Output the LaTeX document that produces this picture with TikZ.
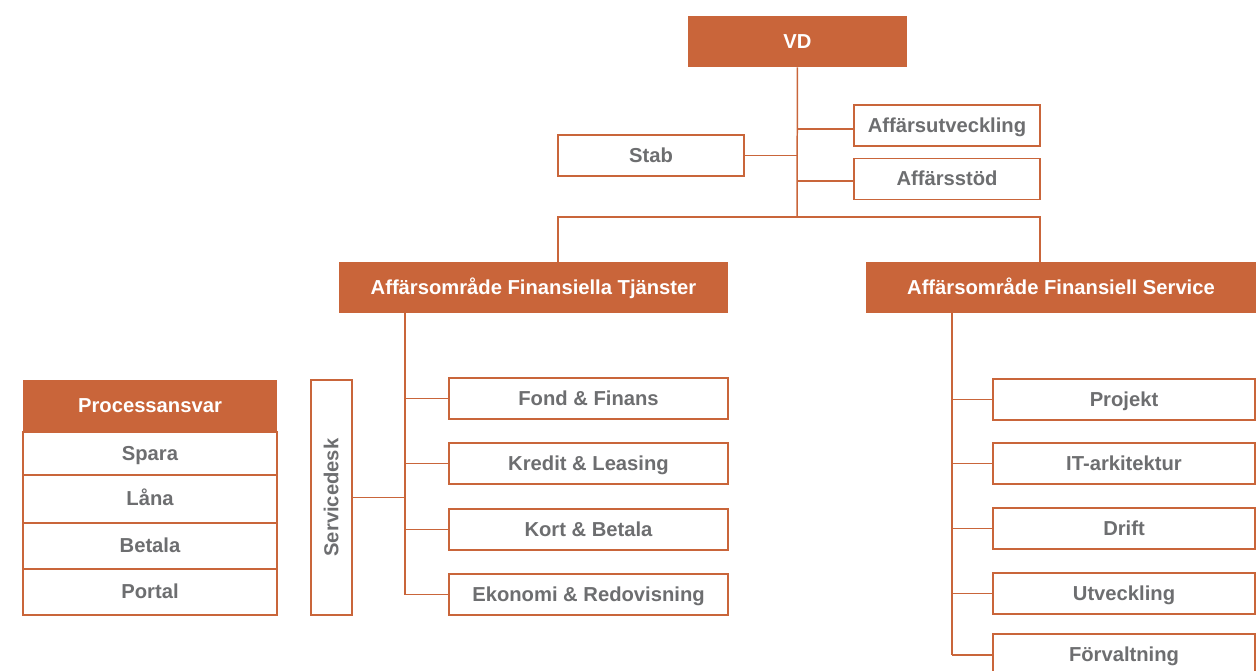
\documentclass[tikz,border=0pt]{standalone}
\usepackage{fontspec}
\setmainfont{Liberation Sans}
\usetikzlibrary{positioning}
\definecolor{orgorange}{HTML}{C9653A}
\definecolor{orggray}{HTML}{6D6E70}
\begin{document}
\begin{tikzpicture}[x=0.02cm,y=-0.02cm,
    head/.style={fill=orgorange,text=white,font=\bfseries\fontsize{11.5}{13}\selectfont,text height=10pt,text depth=2.2pt,minimum height=1.02cm,inner sep=0pt},
    unit/.style={draw=orgorange,line width=0.85pt,fill=white,text=orggray,font=\bfseries\fontsize{11.5}{13}\selectfont,text height=10pt,text depth=2.2pt,minimum height=0.82cm,inner sep=0pt},
    link/.style={draw=orgorange,line width=0.85pt}]
    \useasboundingbox (0,0) rectangle (1256,670);
    \clip (0,0) rectangle (1256,670);
    % top level
    \node[head,minimum width=4.38cm] (vd) at (797.5,41.5) {VD};
    \node[unit,minimum width=3.72cm] (utv) at (947,125.5) {Affärsutveckling};
    \node[unit,minimum width=3.72cm] (stod) at (947,179) {Affärsstöd};
    \node[unit,minimum width=3.72cm] (stab) at (651,155.5) {Stab};
    \node[head,minimum width=7.78cm] (aft) at (533.5,287.5) {Affärsområde Finansiella Tjänster};
    \node[head,minimum width=7.8cm] (afs) at (1061,287.5) {Affärsområde Finansiell Service};
    % Finansiella Tjänster
    \node[unit,minimum width=5.58cm] (fond) at (588.5,398.5) {Fond \& Finans};
    \node[unit,minimum width=5.58cm] (kredit) at (588.5,463.5) {Kredit \& Leasing};
    \node[unit,minimum width=5.58cm] (kort) at (588.5,529.5) {Kort \& Betala};
    \node[unit,minimum width=5.58cm] (ekon) at (588.5,594.5) {Ekonomi \& Redovisning};
    \node[unit,rotate=90,minimum width=4.7cm] (sd) at (331.5,497.5) {Servicedesk};
    % Processansvar
    \node[head,minimum width=5.08cm,minimum height=1.04cm] (proc) at (150,406) {Processansvar};
    \node[unit,minimum width=5.08cm,minimum height=0.86cm] (spara) at (150,453.5) {Spara};
    \node[unit,minimum width=5.08cm,minimum height=0.96cm] (lana) at (150,499) {Låna};
    \node[unit,minimum width=5.08cm,minimum height=0.92cm] (betala) at (150,546) {Betala};
    \node[unit,minimum width=5.08cm,minimum height=0.92cm] (portal) at (150,592) {Portal};
    % Finansiell Service
    \node[unit,minimum width=5.24cm] (proj) at (1124,399.5) {Projekt};
    \node[unit,minimum width=5.24cm] (itark) at (1124,463.5) {IT-arkitektur};
    \node[unit,minimum width=5.24cm] (drift) at (1124,528.5) {Drift};
    \node[unit,minimum width=5.24cm] (utveck) at (1124,593.5) {Utveckling};
    \node[unit,minimum width=5.24cm,minimum height=0.84cm] (forv) at (1124,655) {Förvaltning};
    % connectors
    \coordinate (split) at (797,217);
    \coordinate (lt) at (558,217);
    \coordinate (rt) at (1040,217);
    \coordinate (lbus) at (405,0);
    \coordinate (rbus) at (952,0);
    \draw[link] (vd) -- (split);
    \draw[link] ([yshift=-0.07cm]utv.west) -- ([yshift=-0.07cm]utv.west -| split);
    \draw[link] ([yshift=-0.04cm]stod.west) -- ([yshift=-0.04cm]stod.west -| split);
    \draw[link] (stab.east) -- (stab.east -| split);
    \draw[link] (lt |- aft.north) -- (lt) -- (rt) -- (rt |- afs.north);
    \draw[link] (aft.south -| lbus) -- (ekon.west -| lbus);
    \foreach \n in {fond,kredit,kort,ekon}
        \draw[link] (\n.west) -- (\n.west -| lbus);
    \draw[link] (sd.south) -- (sd.south -| lbus);
    \draw[link] (afs.south -| rbus) -- (forv.west -| rbus);
    \foreach \n in {proj,itark,drift,utveck,forv}
        \draw[link] (\n.west) -- (\n.west -| rbus);
\end{tikzpicture}
\end{document}
